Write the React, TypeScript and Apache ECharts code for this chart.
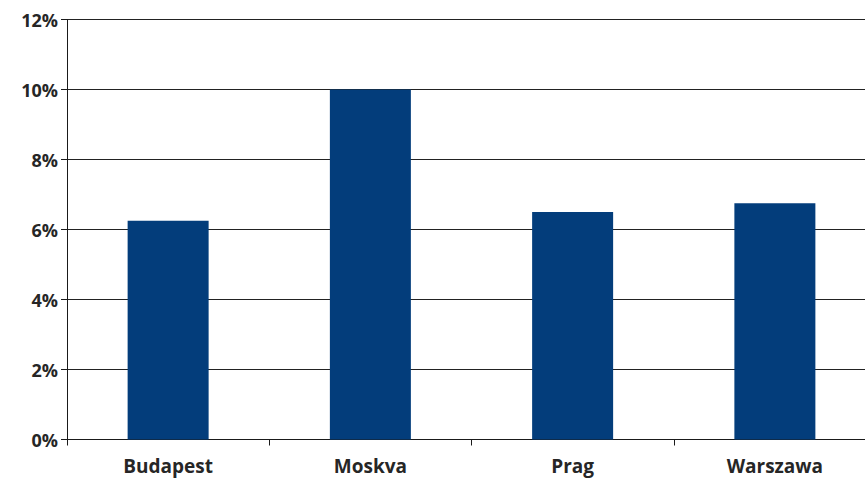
import React, { useEffect, useRef } from "react";
import * as echarts from "echarts";

const cities = ["Budapest", "Moskva", "Prag", "Warszawa"];
const shares = [6.25, 10, 6.5, 6.75];
const yMin = 0;
const yMax = 12;
const yStep = 2;

export default function App() {
  const ref = useRef<HTMLDivElement>(null);

  useEffect(() => {
    document.body.style.margin = "0";
    const chart = echarts.init(ref.current!, null, { renderer: "svg" });
    chart.setOption({
      animation: false,
      backgroundColor: "#ffffff",
      // the plot area runs a little past the visible right edge
      grid: { left: 67, right: 6, top: 19.5, bottom: 39.5, containLabel: false },
      xAxis: {
        type: "category",
        data: cities,
        axisLine: { show: true, lineStyle: { color: "#1a1a1a", width: 1 } },
        axisTick: { show: true, length: 6, lineStyle: { color: "#1a1a1a" } },
        axisLabel: {
          margin: 16,
          color: "#262626",
          fontFamily: "Open Sans",
          fontWeight: "bold",
          fontSize: 19,
          lineHeight: 20,
        },
      },
      yAxis: {
        type: "value",
        min: yMin,
        max: yMax,
        interval: yStep,
        axisLine: { show: true, lineStyle: { color: "#1a1a1a", width: 1 } },
        axisTick: { show: true, length: 6, lineStyle: { color: "#1a1a1a" } },
        splitLine: { show: true, lineStyle: { color: "#222", width: 1.2 } },
        axisLabel: {
          margin: 9,
          color: "#262626",
          fontFamily: "Open Sans",
          fontWeight: "bold",
          fontSize: 18,
          formatter: (v: number) => `${v}%`,
        },
      },
      series: [
        {
          type: "bar",
          data: shares,
          barWidth: 81,
          itemStyle: { color: "#033d7b" },
        },
      ],
    });
    return () => chart.dispose();
  }, []);

  return (
    <div style={{ width: 865, height: 479, overflow: "hidden" }}>
      <div ref={ref} style={{ width: 882, height: 479 }} />
    </div>
  );
}
